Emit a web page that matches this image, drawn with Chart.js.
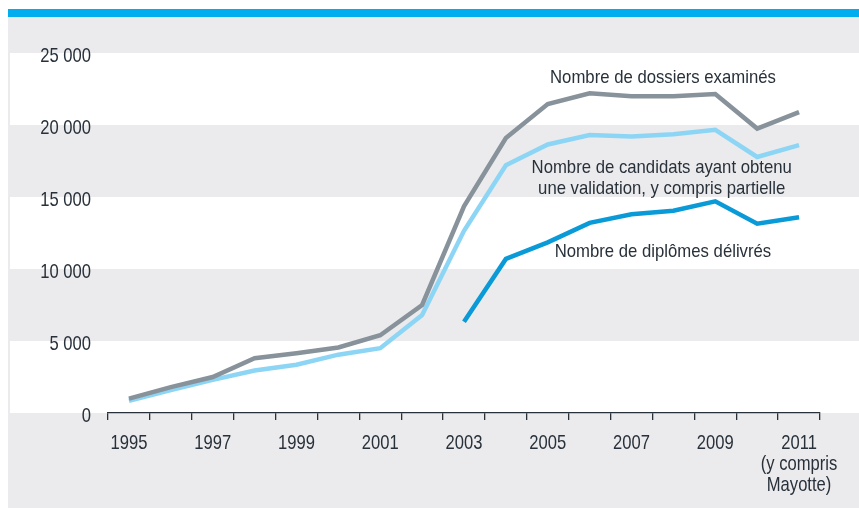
<!DOCTYPE html>
<html>
<head>
<meta charset="utf-8">
<script src="https://cdn.jsdelivr.net/npm/chart.js@4.4.1/dist/chart.umd.min.js"></script>
<style>
  html, body { margin: 0; padding: 0; background: #fff; }
  canvas { display: block; }
</style>
</head>
<body>
<canvas id="vae" width="859" height="508"></canvas>
<script>
// years on the x axis, labels shown only on odd years
const years = ['1995','1996','1997','1998','1999','2000','2001','2002','2003','2004','2005','2006','2007','2008','2009','2010','2011']
const tickLabels = {
  '1995':'1995','1997':'1997','1999':'1999','2001':'2001','2003':'2003',
  '2005':'2005','2007':'2007','2009':'2009','2011':['2011','(y compris','Mayotte)']
}
const dossiers = [1000,1800,2500,3800,4150,4550,5400,7500,14350,19100,21450,22200,22000,22000,22150,19750,20900]
const validations = [850,1600,2300,2950,3350,4050,4500,6800,12650,17200,18650,19300,19200,19350,19670,17780,18600]
const diplomes = [null,null,null,null,null,null,null,null,6330,10700,11850,13200,13800,14050,14700,13150,13600]

const seriesNames = ['Nombre de dossiers examinés',
  ['Nombre de candidats ayant obtenu','une validation, y compris partielle'],
  'Nombre de diplômes délivrés']
// where the series names sit (category index, value)
const nameAnchors = [[12.75,23330],[12.72,16370],[12.75,11250]]

const textColor = '#28313a'
const font = "'Liberation Sans', Arial, sans-serif"

const canvas = document.getElementById('vae')
const c2d = canvas.getContext('2d')

// the original uses a condensed face: squeeze every text horizontally
let squeeze = 0.79
let nudge = 3
const rawFill = c2d.fillText.bind(c2d)
c2d.fillText = function(t,x,y){
  this.save()
  this.translate(x,y+nudge)
  this.scale(squeeze,1)
  rawFill(t,0,0)
  this.restore()
}

const backdrop = {
  id:'backdrop',
  beforeDraw(chart){
    const ctx = chart.ctx
    const w = chart.width, h = chart.height
    const y = chart.scales.y
    ctx.save()
    ctx.fillStyle = '#ffffff'
    ctx.fillRect(0,0,w,h)
    ctx.fillStyle = '#00aeef'
    ctx.fillRect(8,9,w-8,8)
    ctx.fillStyle = '#ebebed'
    ctx.fillRect(8,17,w-8,h-17)
    ctx.fillStyle = '#ffffff'
    ;[[0,5000],[10000,15000],[20000,25000]].forEach(b=>{
      const top = y.getPixelForValue(b[1])
      const bot = y.getPixelForValue(b[0])
      ctx.fillRect(10,top,w-10,bot-top)
    })
    ctx.restore()
  }
}

const seriesLabels = {
  id:'seriesLabels',
  afterDatasetsDraw(chart){
    const ctx = chart.ctx
    const x = chart.scales.x, y = chart.scales.y
    ctx.save()
    squeeze = 0.88
    nudge = 1
    ctx.fillStyle = textColor
    ctx.font = '19px ' + font
    ctx.textAlign = 'center'
    ctx.textBaseline = 'middle'
    seriesNames.forEach((name,i)=>{
      const px = x.getPixelForValue(nameAnchors[i][0])
      const py = y.getPixelForValue(nameAnchors[i][1])
      const lines = Array.isArray(name) ? name : [name]
      lines.forEach((l,j)=>{
        ctx.fillText(l, px, py + (j-(lines.length-1)/2)*21)
      })
    })
    squeeze = 0.79
    nudge = 3
    ctx.restore()
  }
}

new Chart(canvas,{
  type:'line',
  data:{
    labels: years,
    datasets:[
      {label:'dossiers', data:dossiers, borderColor:'#87929a'},
      {label:'validations', data:validations, borderColor:'#8dd5f5'},
      {label:'diplomes', data:diplomes, borderColor:'#0a9ad8'}
    ]
  },
  options:{
    responsive:false,
    animation:false,
    layout:{padding:{top:53,right:39,bottom:0,left:0}},
    elements:{
      line:{borderWidth:4.5, tension:0, borderJoinStyle:'miter', borderCapStyle:'butt', fill:false},
      point:{radius:0, hoverRadius:0}
    },
    plugins:{legend:{display:false}, tooltip:{enabled:false}},
    scales:{
      x:{
        offset:true,
        afterFit(s){ s.height = 95 },
        grid:{offset:true, drawOnChartArea:false, drawTicks:true, tickLength:7, color:textColor, lineWidth:1.3},
        border:{display:true, color:textColor, width:1.3},
        ticks:{
          autoSkip:false, maxRotation:0, padding:10, color:textColor,
          font:{family:font, size:21, lineHeight:1.0},
          callback(v,i){ return tickLabels[years[i]] || '' }
        }
      },
      y:{
        min:0, max:25000,
        afterFit(s){ s.width = 108 },
        grid:{display:false},
        border:{display:false},
        ticks:{
          stepSize:5000, padding:9, color:textColor,
          font:{family:font, size:21},
          callback(v){ return v === 0 ? '0' : (v/1000) + ' 000' }
        }
      }
    }
  },
  plugins:[backdrop, seriesLabels]
})
</script>
</body>
</html>
